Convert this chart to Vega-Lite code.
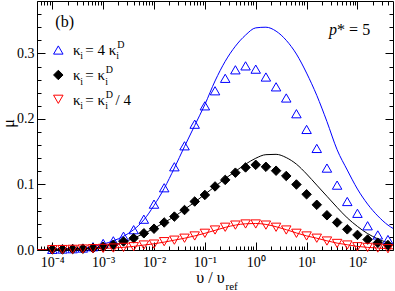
{
  "$schema": "https://vega.github.io/schema/vega-lite/v6.json",
  "autosize": {"type": "none"},
  "padding": {"left": 37, "top": 1, "right": 2, "bottom": 41},
  "width": 356,
  "height": 249,
  "background": "white",
  "config": {
    "view": {"stroke": "black", "strokeWidth": 1},
    "axis": {"grid": false, "domain": false, "tickColor": "black", "tickWidth": 1, "labelColor": "black", "titleColor": "black", "labelFont": "Liberation Serif", "titleFont": "Liberation Serif", "titleFontWeight": "normal"},
    "text": {"font": "Liberation Serif", "color": "black", "align": "left", "baseline": "alphabetic"}
  },
  "datasets": {
    "pts": [
      {"v": 0.0001, "b": 0.001, "k": 0.001, "r": 0.0005},
      {"v": 0.000158489, "b": 0.0015, "k": 0.001, "r": 0.0007},
      {"v": 0.000251189, "b": 0.002, "k": 0.0015, "r": 0.001},
      {"v": 0.000398107, "b": 0.003, "k": 0.002, "r": 0.0015},
      {"v": 0.000630957, "b": 0.005, "k": 0.003, "r": 0.002},
      {"v": 0.001, "b": 0.010, "k": 0.005, "r": 0.0025},
      {"v": 0.00158489, "b": 0.014, "k": 0.008, "r": 0.003},
      {"v": 0.00251189, "b": 0.021, "k": 0.013, "r": 0.004},
      {"v": 0.00398107, "b": 0.031, "k": 0.018, "r": 0.005},
      {"v": 0.00630957, "b": 0.047, "k": 0.0255, "r": 0.0076},
      {"v": 0.01, "b": 0.070, "k": 0.0325, "r": 0.009},
      {"v": 0.0158489, "b": 0.095, "k": 0.042, "r": 0.0127},
      {"v": 0.0251189, "b": 0.127, "k": 0.051, "r": 0.015},
      {"v": 0.0398107, "b": 0.159, "k": 0.061, "r": 0.018},
      {"v": 0.0630957, "b": 0.192, "k": 0.074, "r": 0.0214},
      {"v": 0.1, "b": 0.220, "k": 0.084, "r": 0.0255},
      {"v": 0.158489, "b": 0.243, "k": 0.097, "r": 0.0305},
      {"v": 0.251189, "b": 0.262, "k": 0.107, "r": 0.0347},
      {"v": 0.398107, "b": 0.275, "k": 0.118, "r": 0.038},
      {"v": 0.630957, "b": 0.281, "k": 0.126, "r": 0.0397},
      {"v": 1, "b": 0.276, "k": 0.130, "r": 0.0397},
      {"v": 1.58489, "b": 0.264, "k": 0.127, "r": 0.038},
      {"v": 2.51189, "b": 0.249, "k": 0.121, "r": 0.0347},
      {"v": 3.98107, "b": 0.232, "k": 0.113, "r": 0.0305},
      {"v": 6.30957, "b": 0.208, "k": 0.100, "r": 0.0255},
      {"v": 10, "b": 0.184, "k": 0.085, "r": 0.0214},
      {"v": 15.8489, "b": 0.155, "k": 0.069, "r": 0.018},
      {"v": 25.1189, "b": 0.125, "k": 0.053, "r": 0.0137},
      {"v": 39.8107, "b": 0.099, "k": 0.042, "r": 0.010},
      {"v": 63.0957, "b": 0.074, "k": 0.0315, "r": 0.0076},
      {"v": 100, "b": 0.056, "k": 0.023, "r": 0.005},
      {"v": 158.489, "b": 0.037, "k": 0.016, "r": 0.004},
      {"v": 251.189, "b": 0.023, "k": 0.011, "r": 0.003},
      {"v": 398.107, "b": 0.016, "k": 0.0076, "r": 0.002}
    ],
    "lns": [
      {"v": 0.00005, "b": 0.0005, "k": 0.0005, "r": 0.0003},
      {"v": 0.0001, "b": 0.001, "k": 0.001, "r": 0.0005},
      {"v": 0.000158489, "b": 0.0015, "k": 0.001, "r": 0.0007},
      {"v": 0.000251189, "b": 0.002, "k": 0.0015, "r": 0.001},
      {"v": 0.000398107, "b": 0.003, "k": 0.002, "r": 0.0015},
      {"v": 0.000630957, "b": 0.0055, "k": 0.003, "r": 0.002},
      {"v": 0.001, "b": 0.009, "k": 0.005, "r": 0.0025},
      {"v": 0.00158489, "b": 0.014, "k": 0.008, "r": 0.003},
      {"v": 0.00251189, "b": 0.021, "k": 0.012, "r": 0.004},
      {"v": 0.00398107, "b": 0.031, "k": 0.018, "r": 0.0055},
      {"v": 0.00630957, "b": 0.046, "k": 0.025, "r": 0.0075},
      {"v": 0.01, "b": 0.068, "k": 0.033, "r": 0.0095},
      {"v": 0.0158489, "b": 0.094, "k": 0.042, "r": 0.012},
      {"v": 0.0251189, "b": 0.125, "k": 0.051, "r": 0.015},
      {"v": 0.0398107, "b": 0.158, "k": 0.062, "r": 0.018},
      {"v": 0.0630957, "b": 0.190, "k": 0.073, "r": 0.0215},
      {"v": 0.1, "b": 0.222, "k": 0.085, "r": 0.0255},
      {"v": 0.158489, "b": 0.258, "k": 0.097, "r": 0.030},
      {"v": 0.251189, "b": 0.288, "k": 0.109, "r": 0.0345},
      {"v": 0.398107, "b": 0.311, "k": 0.120, "r": 0.038},
      {"v": 0.630957, "b": 0.328, "k": 0.131, "r": 0.040},
      {"v": 1, "b": 0.339, "k": 0.140, "r": 0.0405},
      {"v": 1.58489, "b": 0.340, "k": 0.1455, "r": 0.039},
      {"v": 2.51189, "b": 0.334, "k": 0.146, "r": 0.0355},
      {"v": 3.98107, "b": 0.320, "k": 0.141, "r": 0.031},
      {"v": 6.30957, "b": 0.299, "k": 0.131, "r": 0.026},
      {"v": 10, "b": 0.270, "k": 0.116, "r": 0.0215},
      {"v": 15.8489, "b": 0.236, "k": 0.099, "r": 0.018},
      {"v": 25.1189, "b": 0.196, "k": 0.082, "r": 0.014},
      {"v": 39.8107, "b": 0.153, "k": 0.065, "r": 0.0105},
      {"v": 63.0957, "b": 0.122, "k": 0.049, "r": 0.008},
      {"v": 100, "b": 0.093, "k": 0.036, "r": 0.0055},
      {"v": 158.489, "b": 0.070, "k": 0.025, "r": 0.004},
      {"v": 251.189, "b": 0.052, "k": 0.017, "r": 0.003},
      {"v": 398.107, "b": 0.038, "k": 0.011, "r": 0.002},
      {"v": 500, "b": 0.033, "k": 0.009, "r": 0.0018}
    ],
    "legsym": [
      {"key": "b", "v": 0.0001312, "mu": 0.3052},
      {"key": "k", "v": 0.0001312, "mu": 0.2671},
      {"key": "r", "v": 0.0001312, "mu": 0.2300}
    ],
    "legtxt": [
      {"kind": "main", "v": 0.0002551, "mu": 0.2976, "t": "κ"},
      {"kind": "sub", "v": 0.0003549, "mu": 0.2976, "t": "i"},
      {"kind": "main", "v": 0.0004449, "mu": 0.2976, "t": "= 4 κ"},
      {"kind": "sub", "v": 0.0018085, "mu": 0.2976, "t": "i"},
      {"kind": "sup", "v": 0.0018923, "mu": 0.2976, "t": "D"},
      {"kind": "main", "v": 0.0002551, "mu": 0.2594, "t": "κ"},
      {"kind": "sub", "v": 0.0003549, "mu": 0.2594, "t": "i"},
      {"kind": "main", "v": 0.0004449, "mu": 0.2594, "t": "= κ"},
      {"kind": "sub", "v": 0.0010998, "mu": 0.2594, "t": "i"},
      {"kind": "sup", "v": 0.0011249, "mu": 0.2594, "t": "D"},
      {"kind": "main", "v": 0.0002551, "mu": 0.2213, "t": "κ"},
      {"kind": "sub", "v": 0.0003549, "mu": 0.2213, "t": "i"},
      {"kind": "main", "v": 0.0004449, "mu": 0.2213, "t": "= κ"},
      {"kind": "sub", "v": 0.0010998, "mu": 0.2213, "t": "i"},
      {"kind": "sup", "v": 0.0011249, "mu": 0.2213, "t": "D"},
      {"kind": "main", "v": 0.0017500, "mu": 0.2213, "t": "/ 4"}
    ],
    "noteb": [{"v": 0.0001146, "mu": 0.3405, "t": "(b)"}],
    "notep": [{"v": 39.8, "mu": 0.328, "t": "p", "t2": "* = 5"}]
  },
  "resolve": {"scale": {"x": "shared", "y": "shared"}, "axis": {"x": "independent", "y": "independent"}},
  "layer": [
    {
      "data": {"name": "lns"},
      "transform": [{"fold": ["b", "k", "r"], "as": ["key", "mu"]}],
      "mark": {"type": "line", "strokeWidth": 1, "interpolate": "monotone", "clip": true},
      "encoding": {
        "x": {"field": "v", "type": "quantitative", "scale": {"type": "log", "domain": [0.00005, 500], "nice": false},
          "axis": {"orient": "bottom", "values": [0.0001, 0.001, 0.01, 0.1, 1, 10, 100], "tickSize": -8, "labelFontSize": 14, "labelPadding": 13,
            "labelExpr": "datum.value < 0.0005 ? '10⁻⁴' : datum.value < 0.005 ? '10⁻³' : datum.value < 0.05 ? '10⁻²' : datum.value < 0.5 ? '10⁻¹' : datum.value < 5 ? '10⁰' : datum.value < 50 ? '10¹' : '10²'",
            "title": "υ / υ", "titleFontSize": 16, "titleX": 173, "titleY": 32, "titleAlign": "center", "titleBaseline": "alphabetic"}},
        "y": {"field": "mu", "type": "quantitative", "scale": {"domain": [0, 0.38], "nice": false, "zero": true},
          "axis": {"orient": "left", "values": [0, 0.1, 0.2, 0.3], "format": ".1f", "tickSize": -8, "labelFontSize": 14, "labelPadding": 11, "title": "μ", "titleFontSize": 16, "titleX": -29, "titleY": 122, "titleAlign": "center", "titleBaseline": "middle", "titleAngle": -90}},
        "color": {"field": "key", "type": "nominal", "scale": {"domain": ["b", "k", "r"], "range": ["#0000ff", "#000000", "#ff0000"]}, "legend": null},
        "detail": {"field": "key"}
      }
    },
    {
      "data": {"name": "pts"},
      "transform": [{"fold": ["b", "k", "r"], "as": ["key", "mu"]}],
      "mark": {"type": "point", "size": 90, "strokeWidth": 1, "opacity": 1},
      "encoding": {
        "x": {"field": "v", "type": "quantitative", "scale": {"type": "log", "domain": [0.00005, 500], "nice": false},
          "axis": {"orient": "top", "values": [0.0001, 0.001, 0.01, 0.1, 1, 10, 100], "tickSize": -8, "labels": false, "title": null}},
        "y": {"field": "mu", "type": "quantitative", "scale": {"domain": [0, 0.38], "nice": false, "zero": true},
          "axis": {"orient": "right", "values": [0, 0.1, 0.2, 0.3], "tickSize": -8, "labels": false, "title": null}},
        "stroke": {"field": "key", "type": "nominal", "scale": {"domain": ["b", "k", "r"], "range": ["#0000ff", "#000000", "#ff0000"]}, "legend": null},
        "fill": {"field": "key", "type": "nominal", "scale": {"domain": ["b", "k", "r"], "range": ["transparent", "#000000", "transparent"]}, "legend": null},
        "shape": {"field": "key", "type": "nominal", "scale": {"domain": ["b", "k", "r"], "range": ["triangle-up", "diamond", "triangle-down"]}, "legend": null}
      }
    },
    {
      "data": {"name": "legsym"},
      "mark": {"type": "point", "size": 90, "strokeWidth": 1, "opacity": 1},
      "encoding": {
        "x": {"field": "v", "type": "quantitative", "scale": {"type": "log", "domain": [0.00005, 500], "nice": false}, "axis": null},
        "y": {"field": "mu", "type": "quantitative", "scale": {"domain": [0, 0.38], "nice": false, "zero": true}, "axis": null},
        "stroke": {"field": "key", "type": "nominal", "legend": null},
        "fill": {"field": "key", "type": "nominal", "legend": null},
        "shape": {"field": "key", "type": "nominal", "legend": null}
      }
    },
    {
      "data": {"name": "legtxt"},
      "transform": [{"filter": "datum.kind == 'main'"}],
      "mark": {"type": "text", "fontSize": 15},
      "encoding": {
        "x": {"field": "v", "type": "quantitative", "scale": {"type": "log", "domain": [0.00005, 500], "nice": false}, "axis": null},
        "y": {"field": "mu", "type": "quantitative", "scale": {"domain": [0, 0.38], "nice": false, "zero": true}, "axis": null},
        "text": {"field": "t"}
      }
    },
    {
      "data": {"name": "legtxt"},
      "transform": [{"filter": "datum.kind == 'sub'"}],
      "mark": {"type": "text", "fontSize": 10, "dy": 4.5},
      "encoding": {
        "x": {"field": "v", "type": "quantitative", "scale": {"type": "log", "domain": [0.00005, 500], "nice": false}, "axis": null},
        "y": {"field": "mu", "type": "quantitative", "scale": {"domain": [0, 0.38], "nice": false, "zero": true}, "axis": null},
        "text": {"field": "t"}
      }
    },
    {
      "data": {"name": "legtxt"},
      "transform": [{"filter": "datum.kind == 'sup'"}],
      "mark": {"type": "text", "fontSize": 10, "dy": -7},
      "encoding": {
        "x": {"field": "v", "type": "quantitative", "scale": {"type": "log", "domain": [0.00005, 500], "nice": false}, "axis": null},
        "y": {"field": "mu", "type": "quantitative", "scale": {"domain": [0, 0.38], "nice": false, "zero": true}, "axis": null},
        "text": {"field": "t"}
      }
    },
    {
      "data": {"name": "noteb"},
      "mark": {"type": "text", "fontSize": 16},
      "encoding": {
        "x": {"field": "v", "type": "quantitative", "scale": {"type": "log", "domain": [0.00005, 500], "nice": false},
          "axis": {"orient": "bottom", "values": [0.00005, 0.00006, 0.00007, 0.00008, 0.00009, 0.0002, 0.0003, 0.0004, 0.0005, 0.0006, 0.0007, 0.0008, 0.0009, 0.002, 0.003, 0.004, 0.005, 0.006, 0.007, 0.008, 0.009, 0.02, 0.03, 0.04, 0.05, 0.06, 0.07, 0.08, 0.09, 0.2, 0.3, 0.4, 0.5, 0.6, 0.7, 0.8, 0.9, 2, 3, 4, 5, 6, 7, 8, 9, 20, 30, 40, 50, 60, 70, 80, 90, 200, 300, 400], "tickSize": -4, "labels": false,
            "title": "ref", "titleFontSize": 11, "titleX": 188, "titleY": 39, "titleAlign": "left", "titleBaseline": "alphabetic"}},
        "y": {"field": "mu", "type": "quantitative", "scale": {"domain": [0, 0.38], "nice": false, "zero": true},
          "axis": {"orient": "left", "values": [0.02, 0.04, 0.06, 0.08, 0.12, 0.14, 0.16, 0.18, 0.22, 0.24, 0.26, 0.28, 0.32, 0.34, 0.36], "tickSize": -4, "labels": false, "title": null}},
        "text": {"field": "t"}
      }
    },
    {
      "data": {"name": "notep"},
      "mark": {"type": "text", "fontSize": 16, "fontStyle": "italic", "align": "right"},
      "encoding": {
        "x": {"field": "v", "type": "quantitative", "scale": {"type": "log", "domain": [0.00005, 500], "nice": false},
          "axis": {"orient": "top", "values": [0.00005, 0.00006, 0.00007, 0.00008, 0.00009, 0.0002, 0.0003, 0.0004, 0.0005, 0.0006, 0.0007, 0.0008, 0.0009, 0.002, 0.003, 0.004, 0.005, 0.006, 0.007, 0.008, 0.009, 0.02, 0.03, 0.04, 0.05, 0.06, 0.07, 0.08, 0.09, 0.2, 0.3, 0.4, 0.5, 0.6, 0.7, 0.8, 0.9, 2, 3, 4, 5, 6, 7, 8, 9, 20, 30, 40, 50, 60, 70, 80, 90, 200, 300, 400], "tickSize": -4, "labels": false, "title": null}},
        "y": {"field": "mu", "type": "quantitative", "scale": {"domain": [0, 0.38], "nice": false, "zero": true},
          "axis": {"orient": "right", "values": [0.02, 0.04, 0.06, 0.08, 0.12, 0.14, 0.16, 0.18, 0.22, 0.24, 0.26, 0.28, 0.32, 0.34, 0.36], "tickSize": -4, "labels": false, "title": null}},
        "text": {"field": "t"}
      }
    },
    {
      "data": {"name": "notep"},
      "mark": {"type": "text", "fontSize": 16},
      "encoding": {
        "x": {"field": "v", "type": "quantitative", "scale": {"type": "log", "domain": [0.00005, 500], "nice": false}, "axis": null},
        "y": {"field": "mu", "type": "quantitative", "scale": {"domain": [0, 0.38], "nice": false, "zero": true}, "axis": null},
        "text": {"field": "t2"}
      }
    }
  ]
}
